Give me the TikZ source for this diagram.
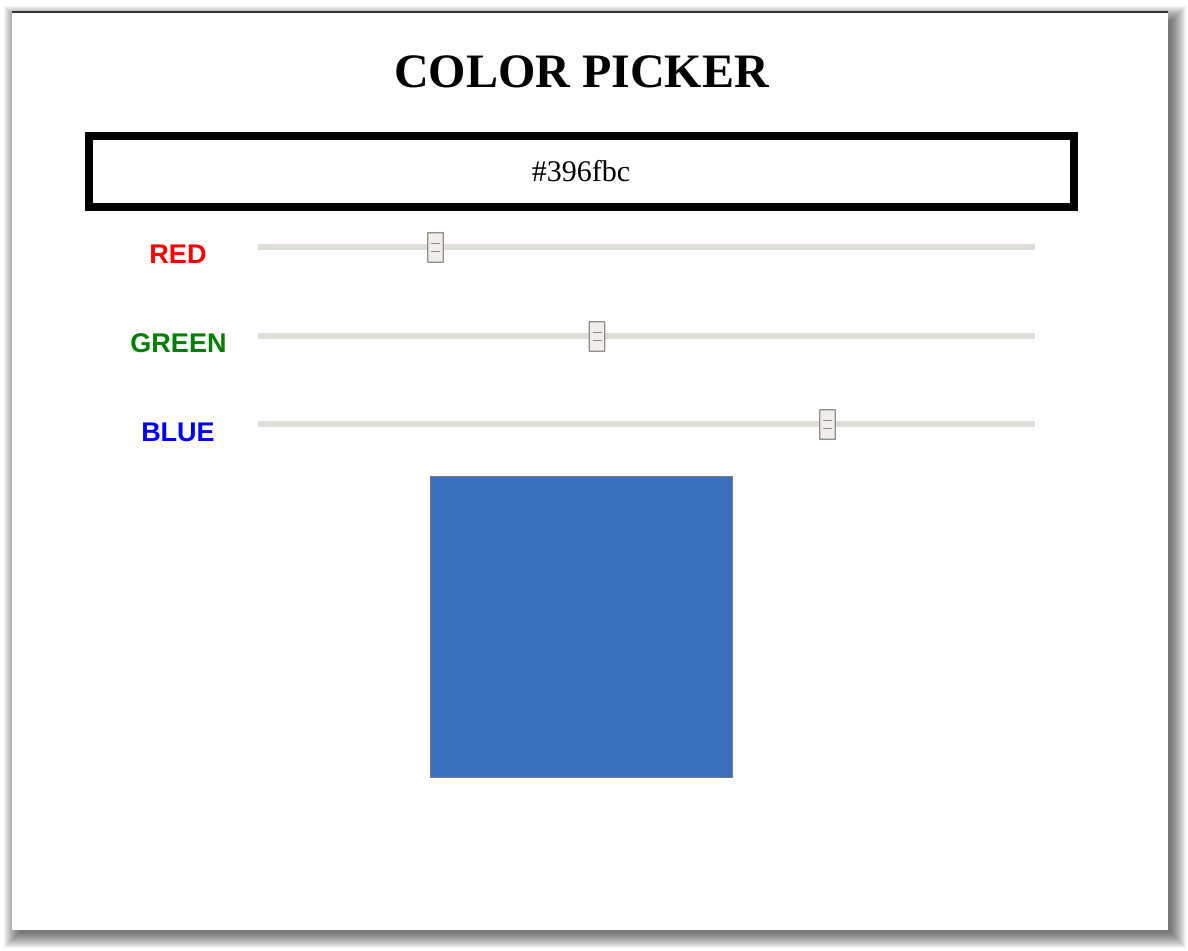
\documentclass[tikz,border=0pt]{standalone}
\usepackage{fontspec}
\setmainfont{Liberation Serif}
\newfontfamily\labelfont{Liberation Sans}
\definecolor{trackgray}{HTML}{E1DDD8}
\definecolor{thumbfill}{HTML}{F0EEEB}
\definecolor{thumbedge}{HTML}{908C86}
\definecolor{griplines}{HTML}{8E8880}
\definecolor{swatch}{HTML}{396FBC}
\definecolor{swatchedge}{HTML}{7B7B7B}
\definecolor{labred}{HTML}{FF0000}
\definecolor{labgreen}{HTML}{008000}
\definecolor{labblue}{HTML}{0000FF}
\begin{document}
\begin{tikzpicture}[x=1pt,y=-1pt,
  lbl/.style={font=\labelfont\bfseries\fontsize{27}{30}\selectfont, anchor=base, inner sep=0pt},
  track/.style={draw=none, fill=trackgray, minimum width=777pt, minimum height=6pt, inner sep=0pt},
  thumb/.style={draw=thumbedge, line width=1.3pt, fill=thumbfill, minimum width=15.5pt, minimum height=29.5pt, inner sep=0pt, rounded corners=0.6pt},
  grip/.style={draw=griplines, line width=1.8pt}
]
\useasboundingbox (0,0) rectangle (1188,950);
\fill[white] (0,0) rectangle (1188,950);
% shadow
\foreach \i in {1,...,16}{
  \fill[black, opacity=0.042] (20-\i, 22-\i) rectangle (1170+\i, 932+\i);
}
% window
\node[draw=none, fill=white, inner sep=0pt, minimum width=1156pt, minimum height=918pt, anchor=north west] (win) at (12,12) {};
\draw[line width=1.5pt, color=black!80] (win.north west) -- (win.north east);
% title
\node[anchor=base, inner sep=0pt, font=\bfseries\fontsize{48}{52}\selectfont] (title) at (581.5,88) {COLOR PICKER};
% text box
\node[draw=black, line width=8pt, minimum width=985pt, minimum height=71pt, inner sep=0pt] (hexbox) at (581.5,171.5) {};
\node[anchor=base, inner sep=0pt, font=\fontsize{30}{34}\selectfont] (hex) at (581,181.5) {\#396fbc};
% labels
\node[lbl, text=labred] (lred) at (178,263) {RED};
\node[lbl, text=labgreen] (lgreen) at (178.5,352) {GREEN};
\node[lbl, text=labblue] (lblue) at (178,441) {BLUE};
% tracks
\node[track] (tred) at (646.5,247) {};
\node[track] (tgreen) at (646.5,335.5) {};
\node[track] (tblue) at (646.5,423.5) {};
% thumbs
\foreach \nm/\x/\y in {thred/435.5/247.5, thgreen/597/336.5, thblue/827.5/424.5}{
  \node[thumb] (\nm) at (\x,\y) {};
  \draw[grip] ([xshift=-4.5pt,yshift=-4pt]\nm.center) -- ([xshift=4.5pt,yshift=-4pt]\nm.center);
  \draw[grip] ([xshift=-4.5pt,yshift=4pt]\nm.center) -- ([xshift=4.5pt,yshift=4pt]\nm.center);
}
% swatch
\node[draw=swatchedge, line width=1.5pt, fill=swatch, minimum width=302pt, minimum height=301pt, inner sep=0pt] (sw) at (581.5,627) {};
\end{tikzpicture}
\end{document}
